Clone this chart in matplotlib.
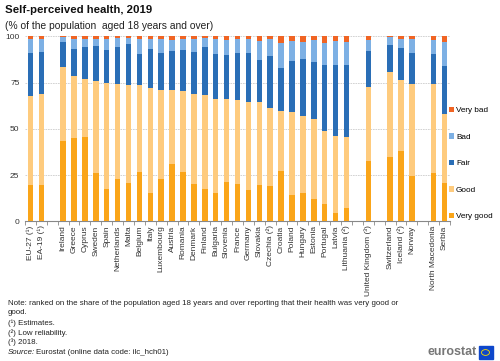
import numpy as np
import matplotlib.pyplot as plt
from matplotlib.patches import Rectangle, Circle

plt.rcParams['font.family'] = ['Liberation Sans', 'DejaVu Sans']

# countries in chart order, "" = empty slot between groups
countries = ['EU-27 (¹)', 'EA-19 (¹)', '',
             'Ireland', 'Greece', 'Cyprus', 'Sweden', 'Spain', 'Netherlands', 'Malta',
             'Belgium', 'Italy', 'Luxembourg', 'Austria', 'Romania', 'Denmark', 'Finland',
             'Bulgaria', 'Slovenia', 'France', 'Germany', 'Slovakia', 'Czechia (²)',
             'Croatia', 'Poland', 'Hungary', 'Estonia', 'Portugal', 'Latvia', 'Lithuania (²)', '',
             'United Kingdom (³)', '',
             'Switzerland', 'Iceland (²)', 'Norway', '',
             'North Macedonia', 'Serbia']

n = np.nan
very_good = [19.6, 19.5, n, 43.2, 45.2, 45.6, 26.1, 17.7, 22.9, 20.7, 26.7, 15.3, 23.1, 31.2,
             26.5, 20.4, 17.7, 15.5, 21.3, 20.4, 16.9, 19.6, 19.3, 27.2, 14.4, 15.3, 11.9,
             9.2, 4.5, 7.2, n, 32.4, n, 34.8, 37.8, 24.5, n, 26.1, 20.7]
good = [48.0, 49.1, n, 40.2, 33.4, 31.3, 49.6, 57.1, 51.3, 53.0, 46.8, 57.0, 48.1, 39.6,
        43.8, 48.4, 50.4, 50.8, 45.0, 45.2, 47.4, 44.7, 42.1, 32.6, 44.7, 41.8, 43.6,
        39.8, 41.4, 38.2, n, 40.2, n, 45.9, 38.8, 49.6, n, 48.0, 37.1]
fair = [23.6, 22.9, n, 13.5, 14.7, 17.3, 19.1, 17.8, 20.2, 22.3, 17.1, 20.7, 19.6, 21.3,
        22.3, 22.7, 26.1, 24.2, 23.8, 25.4, 26.9, 22.9, 28.0, 23.3, 27.7, 30.6, 30.8,
        35.7, 38.4, 39.1, n, 19.7, n, 14.8, 17.3, 17.1, n, 16.4, 26.3]
bad = [7.2, 7.2, n, 2.6, 5.4, 4.5, 3.9, 6.1, 4.9, 3.3, 7.8, 5.7, 7.6, 6.1,
       6.1, 6.9, 5.1, 7.9, 8.1, 7.7, 7.5, 10.1, 9.0, 13.3, 10.9, 9.2, 11.9,
       11.7, 13.2, 12.4, n, 5.7, n, 4.0, 4.8, 7.5, n, 7.7, 13.0]
very_bad = [1.6, 1.3, n, 0.5, 1.3, 1.3, 1.3, 1.3, 0.7, 0.7, 1.6, 1.3, 1.6, 1.8,
            1.3, 1.6, 0.7, 1.6, 1.8, 1.3, 1.3, 2.7, 1.6, 3.6, 2.3, 3.1, 1.8,
            3.6, 2.5, 3.1, n, 2.0, n, 0.5, 1.3, 1.3, n, 1.8, 2.9]

series = [('Very good', very_good, '#FAA519'),
          ('Good', good, '#FECB7E'),
          ('Fair', fair, '#2A6EB6'),
          ('Bad', bad, '#7DB0E4'),
          ('Very bad', very_bad, '#F06423')]

fig = plt.figure(figsize=(5, 3.61), dpi=100)
ax = fig.add_axes([0.05, 0.387, 0.85, 0.5124])

x = np.arange(len(countries))
bottom = np.zeros(len(countries))
for name, vals, col in series:
    vals = np.array(vals, dtype=float)
    ax.bar(x, vals, 0.5, bottom=bottom, color=col, label=name, zorder=3)
    bottom = bottom + np.nan_to_num(vals)

ax.set_xlim(-0.5, len(countries) - 0.5)
ax.set_ylim(0, 100)
ax.set_yticks([0, 25, 50, 75, 100])
ax.tick_params(axis='y', length=0, labelsize=6, colors='#333333', pad=4)
ax.grid(axis='y', color='#CCCCCC', linestyle=(0, (2, 1)), linewidth=0.6, zorder=0)

ax.set_xticks(x)
ax.set_xticklabels(countries, rotation=90, fontsize=6, color='#333333')
ax.tick_params(axis='x', which='major', length=0, pad=3)
ax.set_xticks(np.arange(len(countries) + 1) - 0.5, minor=True)
ax.tick_params(axis='x', which='minor', length=3, color='#888888', width=0.6)

for s in ['left', 'right', 'top']:
    ax.spines[s].set_visible(False)
ax.spines['bottom'].set_color('#888888')
ax.spines['bottom'].set_linewidth(0.8)

h, l = ax.get_legend_handles_labels()
fig.legend(h[::-1], l[::-1], loc='center left', bbox_to_anchor=(0.898, 0.547),
           frameon=False, fontsize=5.9, handlelength=0.65, handleheight=0.65,
           handletextpad=0.2, labelspacing=2.3, borderaxespad=0, borderpad=0)

fig.text(0.01, 0.985, 'Self-perceived health, 2019', fontsize=8.2, fontweight='bold',
         va='top', color='#111111')
fig.text(0.01, 0.942, '(% of the population  aged 18 years and over)', fontsize=7.4,
         va='top', color='#222222')

notes = ['Note: ranked on the share of the population aged 18 years and over reporting that their health was very good or',
         'good.', '(¹) Estimates.', '(²) Low reliability.', '(³) 2018.']
note_y = [303.5, 313, 323.5, 333, 342.5]
for t, yy in zip(notes, note_y):
    fig.text(0.016, 1 - yy / 361, t, fontsize=5.7, va='center', color='#222222')
fig.text(0.016, 1 - 353 / 361, 'Source:', fontsize=5.7, va='center', style='italic', color='#222222')
fig.text(0.071, 1 - 353 / 361, 'Eurostat (online data code: ilc_hch01)', fontsize=5.7,
         va='center', color='#222222')

# eurostat logo
fig.text(0.953, 1 - 352 / 361, 'eurostat', fontsize=9, fontweight='bold', color='#777777',
         ha='right', va='center')
fig.patches.append(Rectangle((0.957, 1 - 359 / 361), 0.028, 0.036,
                             transform=fig.transFigure, color='#0E47CB'))
fig.patches.append(Circle((0.971, 1 - 352.5 / 361), 0.008, transform=fig.transFigure,
                          fill=False, edgecolor='#FFDD00', linewidth=0.6))

fig.savefig('out.png', dpi=100)
